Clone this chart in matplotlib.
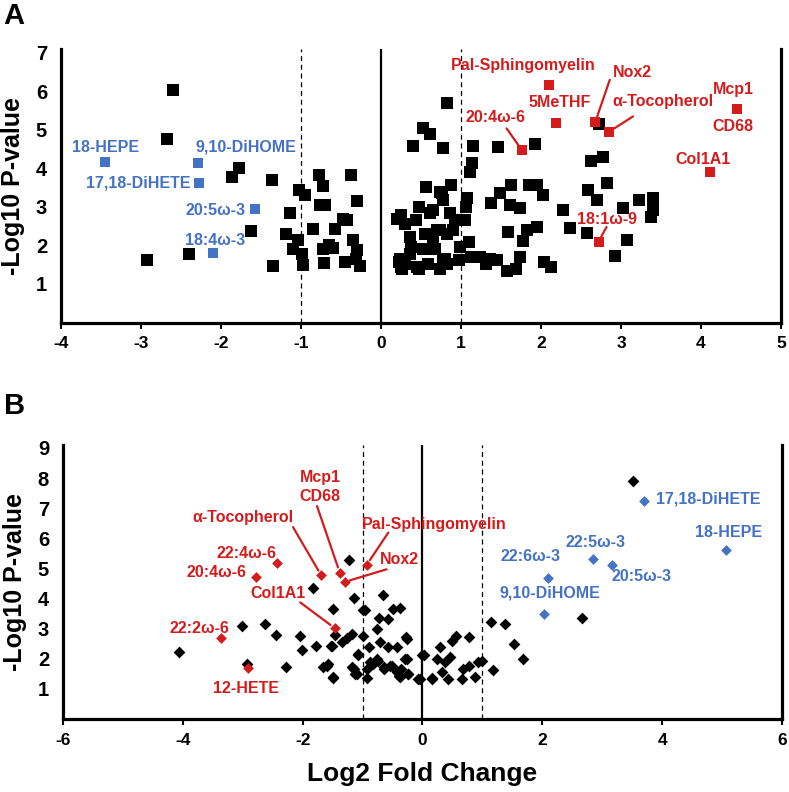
import matplotlib
matplotlib.use('Agg')
import matplotlib.pyplot as plt

plt.rcParams['font.family'] = ['Liberation Sans', 'DejaVu Sans']
plt.rcParams['font.weight'] = 'bold'
plt.rcParams['axes.unicode_minus'] = False

RED = '#d41c1c'
BLUE = '#4472c4'

# ---- panel A data (log2 fold change, -log10 p) ----
a_black_x = [-2.60, -2.67, -1.77, -1.86, -1.36, -0.78, -0.38, -0.72, -1.03, -0.95,
             -0.30, -0.76, -0.70, -1.14, -0.48, -0.42, -0.58, -0.85, -1.63, -1.19,
             -1.04, -0.35, -0.65, -0.60, -1.10, -0.73, -0.30, -0.99, -2.40, -2.93,
             -0.71, -0.45, -0.31, -0.97, -1.35, -0.26,
             0.82, 0.52, 0.61, 0.40, 0.78, 1.15, 1.46, 1.92, 2.73, 2.63,
             2.77, 1.14, 1.11, 0.56, 0.88, 0.76, 1.07, 1.06, 1.62, 1.85,
             1.95, 2.02, 1.49, 1.38, 1.61, 1.74, 2.27, 2.59, 2.70, 2.83,
             3.22, 3.40, 3.03, 3.40, 3.38, 2.36, 2.58, 1.59, 1.82, 1.95,
             1.78, 3.07, 2.92, 1.74, 2.04, 2.13, 1.57, 1.69, 1.13, 1.24,
             1.36, 1.45, 1.31, 0.97, 1.10, 0.99, 1.05, 0.86,
             0.25, 0.30, 0.47, 0.44, 0.61, 0.65, 0.78, 0.86, 0.93, 0.57,
             0.74, 0.65, 0.82, 0.36, 0.38, 0.53, 0.65, 0.78, 0.24, 0.30,
             0.45, 0.59, 0.74, 0.82, 0.36, 0.74, 0.20, 0.22, 0.25,
             0.55, 0.70, 0.90, 0.67, 0.26, 0.47, 0.80]
a_black_y = [6.04, 4.76, 4.02, 3.78, 3.69, 3.84, 3.84, 3.55, 3.45, 3.32,
             3.15, 3.04, 3.04, 2.85, 2.69, 2.67, 2.42, 2.44, 2.37, 2.30,
             2.13, 2.13, 2.00, 1.94, 1.91, 1.91, 1.89, 1.78, 1.78, 1.63,
             1.55, 1.56, 1.65, 1.48, 1.46, 1.46,
             5.71, 5.04, 4.89, 4.58, 4.52, 4.59, 4.56, 4.63, 5.16, 4.19,
             4.30, 4.13, 3.91, 3.52, 3.58, 3.35, 3.22, 3.00, 3.58, 3.58,
             3.58, 3.32, 3.36, 3.10, 3.06, 2.96, 2.93, 3.43, 3.19, 3.61,
             3.19, 3.24, 2.96, 2.91, 2.74, 2.45, 2.33, 2.36, 2.39, 2.48,
             2.11, 2.13, 1.72, 1.69, 1.56, 1.43, 1.35, 1.39, 1.69, 1.69,
             1.65, 1.61, 1.52, 1.61, 2.09, 1.95, 2.65, 2.84,
             2.78, 2.56, 3.00, 2.65, 2.83, 2.91, 3.17, 2.83, 2.65, 2.30,
             2.39, 2.13, 2.30, 2.21, 1.95, 1.91, 1.91, 1.65, 1.65, 1.52,
             1.43, 1.52, 1.39, 1.52, 1.78, 3.39, 2.70, 1.56, 1.45,
             2.30, 2.39, 2.39, 1.91, 1.39, 1.39, 1.65]

a_blue_names = ['18-HEPE', '9,10-DiHOME', '17,18-DiHETE', '20:5ω-3', '18:4ω-3']
a_blue_x = [-3.45, -2.29, -2.28, -1.57, -2.10]
a_blue_y = [4.17, 4.15, 3.62, 2.95, 1.81]

a_red_names = ['Pal-Sphingomyelin', '5MeTHF', 'Nox2', 'α-Tocopherol', 'Mcp1\n\nCD68',
               'Col1A1', '20:4ω-6', '18:1ω-9']
a_red_x = [2.10, 2.19, 2.68, 2.85, 4.45, 4.11, 1.76, 2.72]
a_red_y = [6.17, 5.17, 5.21, 4.95, 5.55, 3.91, 4.48, 2.10]

# ---- panel B data ----
b_black_x = [-4.06, -3.01, -2.93, -2.62, -2.44, -2.28, -2.05, -2.01, -1.83, -1.78,
             -1.50, -1.46, -1.52, -1.66, -1.58, -1.49, -1.22, -1.15, -0.96, -1.35,
             -1.26, -1.18, -1.07, -1.15, -1.10, -0.93, -0.66, -0.72, -0.57, -0.76,
             -0.71, -0.57, -0.90, -0.99, -0.87, -0.76, -0.65, -0.54,
             -0.99, -0.50, -0.37, -0.27, -0.43, -0.25, 0.02, -1.07, -1.51, -1.18,
             -1.12, -0.93, -0.82, -0.74, -0.65, -0.51, -0.43, -0.35, -0.24, -0.37,
             -0.07, 0.16, -1.60, -1.49,
             3.52, 2.67, 1.15, 1.37, 1.52, 1.67, 1.18, 0.77, 0.56, 0.49,
             0.29, 0.24, 0.38, 0.46, -0.01, 0.32, 0.43, 0.16, 0.66, 0.68,
             0.77, 0.88, 0.93, 0.99, -0.04, -0.26, -0.29, -0.40, -0.24]
b_black_y = [2.24, 3.10, 1.83, 3.17, 2.79, 1.74, 2.77, 2.30, 4.34, 2.43,
             3.65, 2.79, 2.41, 1.72, 1.83, 1.35, 5.27, 4.01, 3.62, 2.55,
             2.68, 2.82, 2.16, 1.66, 1.50, 1.35, 4.12, 3.34, 3.32, 2.99,
             2.57, 2.38, 2.38, 2.77, 1.88, 1.99, 1.66, 1.77,
             3.63, 3.65, 3.70, 2.71, 2.38, 1.99, 2.13, 2.13, 2.41, 1.72,
             1.50, 1.66, 1.83, 1.94, 1.72, 1.77, 1.55, 1.66, 1.50, 1.39,
             1.33, 1.36, 1.77, 1.39,
             7.90, 3.34, 3.21, 3.15, 2.49, 1.99, 1.63, 2.71, 2.77, 2.60,
             2.38, 1.99, 1.88, 2.05, 2.13, 1.55, 1.33, 1.33, 1.33, 1.66,
             1.77, 1.41, 1.88, 1.94, 1.33, 2.66, 1.99, 1.44, 1.50]

b_blue_names = ['17,18-DiHETE', '18-HEPE', '22:5ω-3', '20:5ω-3', '22:6ω-3', '9,10-DiHOME']
b_blue_x = [3.70, 5.07, 2.84, 3.17, 2.09, 2.02]
b_blue_y = [7.24, 5.61, 5.30, 5.12, 4.68, 3.48]

b_red_names = ['22:4ω-6', '20:4ω-6', 'α-Tocopherol', 'Mcp1\nCD68', 'Nox2',
               'Pal-Sphingomyelin', 'Col1A1', '22:2ω-6', '12-HETE']
b_red_x = [-2.42, -2.77, -1.69, -1.38, -1.30, -0.93, -1.46, -3.37, -2.92]
b_red_y = [5.17, 4.73, 4.77, 4.86, 4.55, 5.12, 3.01, 2.68, 1.69]

# label placements (text centre) and optional leader-line start
a_blue_pos = [(-3.44, 4.55), (-1.69, 4.55), (-3.04, 3.61), (-2.07, 2.91), (-2.07, 2.13)]
a_red_pos = [(1.78, 6.68), (2.23, 5.70), (3.14, 6.48), (3.52, 5.74), (4.40, 5.57),
             (4.03, 4.24), (1.43, 5.33), (2.83, 2.68)]
a_red_lead = [None, None, (2.86, 6.30), (3.15, 5.35), None, None, (1.57, 5.04), (2.82, 2.48)]

b_blue_pos = [(4.77, 7.31), (5.11, 6.19), (2.88, 5.86), (3.66, 4.72), (1.80, 5.41), (2.13, 4.20)]
b_red_pos = [(-2.94, 5.49), (-3.43, 4.86), (-3.00, 6.68), (-1.71, 7.70), (-0.38, 5.30),
             (0.19, 6.46), (-2.41, 4.17), (-3.72, 3.01), (-2.94, 1.00)]
b_red_lead = [None, None, (-2.16, 6.37), (-1.76, 7.07), (-0.60, 4.97),
              (-0.57, 6.19), (-2.04, 3.87), None, None]


def style_axes(ax, xlim, ylim, xticks, yticks):
    ax.set_xlim(*xlim)
    ax.set_ylim(*ylim)
    ax.set_xticks(xticks)
    ax.set_yticks(yticks)
    ax.spines['top'].set_visible(False)
    for s in ['left', 'bottom', 'right']:
        ax.spines[s].set_linewidth(2.3)
    ax.tick_params(axis='x', length=4, width=1.5, labelsize=12.5, pad=6)
    ax.tick_params(axis='y', length=0, labelsize=14.5, pad=10)
    for lab in ax.get_xticklabels() + ax.get_yticklabels():
        lab.set_fontweight('bold')
    ax.axvline(0, color='black', lw=1.6, zorder=1)
    ax.axvline(-1, color='black', lw=0.9, ls=(0, (4, 3)), zorder=1)
    ax.axvline(1, color='black', lw=0.9, ls=(0, (4, 3)), zorder=1)
    ax.set_ylabel('-Log10 P-value', fontsize=18, fontweight='bold', labelpad=8)


def add_labels(ax, xs, ys, names, pos, color, leads=None):
    for i, name in enumerate(names):
        tx, ty = pos[i]
        ax.text(tx, ty, name, color=color, fontsize=11.5, fontweight='bold',
                ha='center', va='center', linespacing=1.3, zorder=4)
        if leads is not None and leads[i] is not None:
            ax.annotate('', xy=(xs[i], ys[i]), xytext=leads[i],
                        arrowprops=dict(arrowstyle='-', color=color, lw=1.6,
                                        shrinkA=0, shrinkB=4), zorder=3)


fig = plt.figure(figsize=(7.89, 7.92), dpi=100)

# panel A
axA = fig.add_axes([0.0773, 0.5928, 0.9125, 0.3453])
style_axes(axA, (-4, 5), (0, 7.1), range(-4, 6), range(1, 8))
axA.scatter(a_black_x, a_black_y, marker='s', s=70, color='black', linewidths=0, zorder=2)
axA.scatter(a_blue_x, a_blue_y, marker='s', s=55, color=BLUE, linewidths=0, zorder=3)
axA.scatter(a_red_x, a_red_y, marker='s', s=62, color=RED, linewidths=0, zorder=3)
add_labels(axA, a_blue_x, a_blue_y, a_blue_names, a_blue_pos, BLUE)
add_labels(axA, a_red_x, a_red_y, a_red_names, a_red_pos, RED, a_red_lead)

# panel B
axB = fig.add_axes([0.0798, 0.0922, 0.9113, 0.346])
style_axes(axB, (-6, 6), (0, 9.1), range(-6, 7, 2), range(1, 10))
axB.scatter(b_black_x, b_black_y, marker='D', s=36, color='black', linewidths=0, zorder=2)
axB.scatter(b_blue_x, b_blue_y, marker='D', s=30, color=BLUE, linewidths=0, zorder=3)
axB.scatter(b_red_x, b_red_y, marker='D', s=30, color=RED, linewidths=0, zorder=3)
add_labels(axB, b_blue_x, b_blue_y, b_blue_names, b_blue_pos, BLUE)
add_labels(axB, b_red_x, b_red_y, b_red_names, b_red_pos, RED, b_red_lead)
axB.set_xlabel('Log2 Fold Change', fontsize=19, fontweight='bold', labelpad=10)

fig.text(0.018, 0.98, 'A', fontsize=21, fontweight='bold', va='center', ha='center')
fig.text(0.018, 0.488, 'B', fontsize=21, fontweight='bold', va='center', ha='center')

fig.savefig('out.png', dpi=100)
